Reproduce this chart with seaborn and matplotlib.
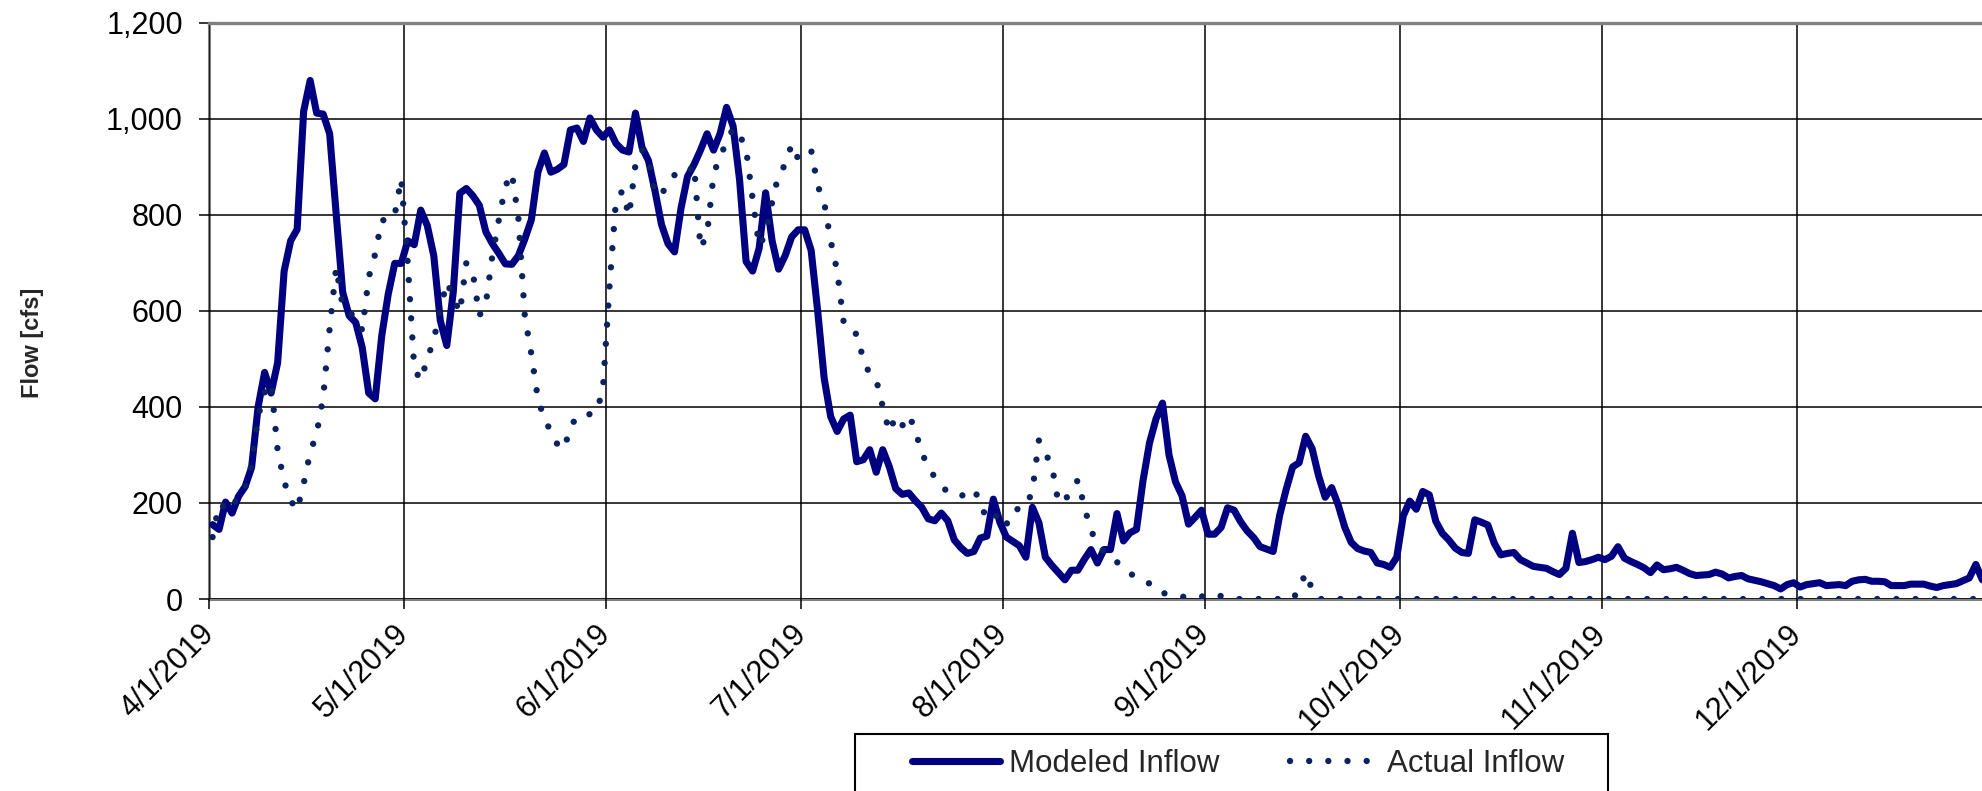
import numpy as np
import pandas as pd
import matplotlib
matplotlib.use("Agg")
import matplotlib.pyplot as plt
import matplotlib.dates as mdates
from matplotlib.ticker import FuncFormatter, FixedLocator
from matplotlib.patches import Rectangle
import seaborn as sns

# daily inflow in cfs, starting 4/1/2019
start_date = "2019-04-01"

modeled_inflow = [
    155, 145, 202, 179, 214, 234, 274, 400, 472, 429,
    492, 683, 746, 770, 1016, 1080, 1012, 1010, 969, 802,
    639, 590, 576, 524, 429, 417, 548, 635, 699, 699,
    746, 738, 810, 778, 715, 580, 528, 640, 845, 855,
    840, 820, 765, 740, 720, 698, 697, 715, 750, 790,
    889, 929, 889, 895, 905, 977, 981, 953, 1002, 977,
    962, 977, 949, 935, 931, 1012, 941, 913, 850, 780,
    740, 723, 814, 880, 905, 935, 969, 935, 969, 1024,
    985, 873, 703, 683, 730, 846, 746, 687, 715, 754,
    769, 769, 726, 600, 460, 380, 349, 375, 383, 286,
    290, 311, 264, 311, 276, 230, 218, 221, 205, 191,
    167, 163, 179, 163, 123, 107, 95, 99, 127, 131,
    208, 160, 129, 120, 111, 87, 191, 159, 87, 70,
    55, 40, 60, 60, 83, 103, 75, 103, 103, 178,
    121, 138, 145, 246, 325, 375, 408, 300, 244, 215,
    156, 170, 185, 135, 135, 149, 190, 185, 161, 142,
    128, 109, 104, 99, 174, 228, 275, 284, 339, 313,
    256, 212, 232, 196, 150, 118, 105, 100, 97, 75,
    72, 66, 87, 173, 204, 187, 224, 217, 162, 137,
    123, 106, 97, 95, 165, 160, 154, 116, 92, 95,
    97, 82, 75, 68, 66, 64, 57, 51, 64, 137,
    76, 78, 82, 87, 82, 89, 109, 85, 78, 72,
    65, 55, 71, 61, 63, 66, 60, 53, 49, 50,
    51, 56, 52, 44, 47, 49, 42, 39, 36, 32,
    28, 21, 30, 34, 25, 30, 32, 34, 28, 29,
    30, 28, 37, 40, 41, 37, 37, 36, 28, 28,
    28, 31, 31, 31, 27, 24, 28, 30, 32, 38,
    44, 72, 40,
]

actual_inflow = [
    129, 198, 190, 185, 220, 232, 280, 380, 430, 450,
    310, 245, 205, 185, 240, 305, 345, 420, 564, 691,
    610, 595, 590, 560, 670, 719, 790, 786, 800, 876,
    699, 480, 455, 500, 540, 603, 660, 629, 596, 700,
    680, 590, 615, 715, 790, 860, 887, 794, 588, 510,
    417, 375, 349, 322, 312, 357, 381, 383, 385, 389,
    437, 650, 830, 850, 798, 905, 935, 919, 842, 843,
    865, 883, 891, 888, 904, 730, 760, 883, 925, 948,
    981, 967, 937, 834, 735, 760, 826, 885, 904, 947,
    917, 927, 935, 861, 826, 746, 683, 576, 556, 552,
    500, 468, 457, 401, 348, 380, 361, 383, 353, 302,
    280, 252, 237, 222, 218, 214, 222, 229, 202, 164,
    168, 179, 155, 185, 188, 192, 225, 330, 303, 278,
    200, 206, 226, 248, 191, 143, 115, 99, 85, 77,
    65, 53, 46, 41, 32, 17, 13, 9, 8, 5,
    3, 2, 5, 9, 11, 6, 2, 0, 0, 0,
    0, 0, 0, 0, 0, 0, 0, 20, 55, 20,
    0, 0, 0, 0, 0, 0, 0, 0, 0, 0,
    0, 0, 0, 0, 0, 0, 0, 0, 0, 0,
    0, 0, 0, 0, 0, 0, 0, 0, 0, 0,
    0, 0, 0, 0, 0, 0, 0, 0, 0, 0,
    0, 0, 0, 0, 0, 0, 0, 0, 0, 0,
    0, 0, 0, 0, 0, 0, 0, 0, 0, 0,
    0, 0, 0, 0, 0, 0, 0, 0, 0, 0,
    0, 0, 0, 0, 0, 0, 0, 0, 0, 0,
    0, 0, 0, 0, 0, 0, 0, 0, 0, 0,
    0, 0, 0, 0, 0, 0, 0, 0, 0, 0,
    0, 0, 0,
]

series_labels = ["Modeled Inflow", "Actual Inflow"]
y_ticks = [0, 200, 400, 600, 800, 1000, 1200]
month_ticks = ["2019-04-01", "2019-05-01", "2019-06-01", "2019-07-01", "2019-08-01",
               "2019-09-01", "2019-10-01", "2019-11-01", "2019-12-01"]

sns.set_theme(style="white")
plt.rcParams["font.family"] = ["Liberation Sans", "DejaVu Sans"]

# each day sits in the middle of its slot on the date axis
dates = pd.date_range(start_date, periods=len(modeled_inflow), freq="D")
df = pd.DataFrame({
    "date": dates + pd.Timedelta(hours=12),
    "modeled": modeled_inflow,
    "actual": actual_inflow,
})

fig = plt.figure(figsize=(19.82, 7.91), dpi=100)
ax = fig.add_axes([0.1056, 0.2427, 0.8944, 0.7284])

sns.lineplot(data=df, x="date", y="modeled", ax=ax, color="#000080", lw=5.1,
             label=series_labels[0], solid_joinstyle="round", solid_capstyle="round")
sns.lineplot(data=df, x="date", y="actual", ax=ax, color="#0a2260", lw=4.6,
             linestyle=(0, (0.001, 3.0)), label=series_labels[1])
ax.lines[1].set_dash_capstyle("round")

# axes range: plot is cut at the right edge of the image
x0 = pd.Timestamp(start_date)
ax.set_xlim(x0, x0 + pd.Timedelta(days=272.45))
ax.set_ylim(0, 1200)

ax.yaxis.set_major_locator(FixedLocator(y_ticks))
ax.yaxis.set_major_formatter(FuncFormatter(lambda v, p: f"{v:,.0f}"))
ax.xaxis.set_major_locator(FixedLocator(mdates.date2num(pd.to_datetime(month_ticks))))
ax.xaxis.set_major_formatter(mdates.DateFormatter("%-m/%-d/%Y"))

ax.grid(True, color="black", lw=1.1)
ax.set_axisbelow(True)

for side in ["left", "bottom"]:
    ax.spines[side].set_color("#808080")
    ax.spines[side].set_linewidth(2.2)
    ax.spines[side].set_zorder(0.4)
ax.spines["top"].set_color("#808080")
ax.spines["top"].set_linewidth(2.4)
ax.spines["top"].set_zorder(3)
ax.spines["right"].set_visible(False)

ax.tick_params(axis="both", direction="out", length=7, width=1.1, color="black",
               labelsize=22, labelcolor="black", bottom=True, left=True)
ax.tick_params(axis="y", pad=12)
ax.tick_params(axis="x", pad=15, labelrotation=45)
plt.setp(ax.get_xticklabels(), ha="right", va="center", rotation_mode="anchor")

ax.set_xlabel("")
ax.set_ylabel("Flow [cfs]", fontsize=17, fontweight="bold")
ax.yaxis.set_label_coords(-0.093, 0.444)

# legend sits in a box below the plot, cut by the bottom edge
ax.legend(loc="center left", bbox_to_anchor=(912 / 1982, 1 - 764 / 791),
          bbox_transform=fig.transFigure, ncol=2, frameon=False, fontsize=22.5,
          handlelength=2.8, handletextpad=0.3, columnspacing=2.25,
          borderpad=0, borderaxespad=0)
fig.add_artist(Rectangle((854.5 / 1982, -0.05), (1608 - 854.5) / 1982, (1 - 734 / 791) + 0.05,
                         transform=fig.transFigure, fill=False, edgecolor="black",
                         lw=1.5, clip_on=False))

fig.savefig("out.png", dpi=100)
